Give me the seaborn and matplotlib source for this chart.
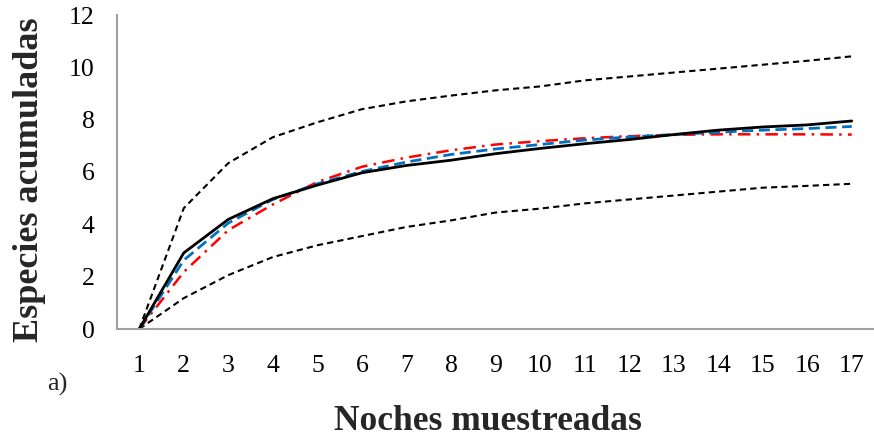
import matplotlib
matplotlib.use("Agg")
import matplotlib.pyplot as plt
import seaborn as sns
import numpy as np
import pandas as pd

nights = list(range(1, 18))
upper = [0, 4.62, 6.34, 7.33, 7.9, 8.4, 8.7, 8.92, 9.12, 9.27, 9.5, 9.65, 9.8, 9.95, 10.1, 10.25, 10.42]
lower = [0, 1.18, 2.06, 2.75, 3.2, 3.55, 3.9, 4.15, 4.45, 4.6, 4.8, 4.95, 5.1, 5.25, 5.4, 5.47, 5.55]
observed = [0, 2.91, 4.19, 4.98, 5.5, 5.97, 6.25, 6.45, 6.7, 6.9, 7.08, 7.24, 7.43, 7.6, 7.72, 7.8, 7.95]
estimator_blue = [0, 2.63, 4.05, 4.95, 5.55, 6.02, 6.38, 6.67, 6.88, 7.05, 7.22, 7.34, 7.43, 7.52, 7.6, 7.66, 7.74]
estimator_red = [0, 2.18, 3.78, 4.76, 5.62, 6.2, 6.55, 6.83, 7.05, 7.18, 7.29, 7.37, 7.42, 7.44, 7.44, 7.44, 7.43]

yticks = [0, 2, 4, 6, 8, 10, 12]
xlabel = "Noches muestreadas"
ylabel = "Especies acumuladas"
panel = "a)"

sns.set_theme(style="white")
plt.rcParams["font.family"] = ["Liberation Serif", "DejaVu Serif"]

fig = plt.figure(figsize=(8.74, 4.42), dpi=100)
ax = fig.add_axes([117 / 874, 1 - 329 / 442, 1 - 117 / 874, (329 - 15) / 442])

series = [
    (upper, "black", (0, (3, 2)), 1.5),
    (lower, "black", (0, (3, 2)), 1.5),
    (estimator_red, "#FF0000", (0, (5, 2.5, 1, 2.5)), 1.8),
    (estimator_blue, "#0070C0", (0, (4, 2)), 2.0),
    (observed, "black", "-", 2.0),
]
for vals, col, ls, lw in series:
    df = pd.DataFrame({"x": nights, "y": vals})
    sns.lineplot(data=df, x="x", y="y", ax=ax, color=col, linestyle=ls, linewidth=lw)

ax.set_xlim(0.5, 17.5)
ax.set_ylim(0, 12)
ax.set_xticks(nights)
ax.set_xticklabels([str(n) for n in nights])
ax.set_yticks(yticks)
ax.set_yticklabels([str(t) for t in yticks])
ax.tick_params(axis="both", length=0, labelsize=18.5, colors="black")
ax.tick_params(axis="x", pad=19)
ax.tick_params(axis="y", pad=16)
ax.set_xlabel("")
ax.set_ylabel("")
for s in ["top", "right"]:
    ax.spines[s].set_visible(False)
for s in ["left", "bottom"]:
    ax.spines[s].set_color("#A0A0A0")
    ax.spines[s].set_linewidth(1.5)
ax.grid(False)

fig.text(30 / 874, 1 - 180 / 442, ylabel, rotation=90, ha="center", va="center",
         fontsize=26, fontweight="bold")
fig.text(488 / 874, 1 - 422 / 442, xlabel, ha="center", va="center",
         fontsize=25.5, fontweight="bold")
fig.text(57 / 874, 1 - 384 / 442, panel, ha="center", va="center", fontsize=19)

fig.savefig("out.png", dpi=100)
